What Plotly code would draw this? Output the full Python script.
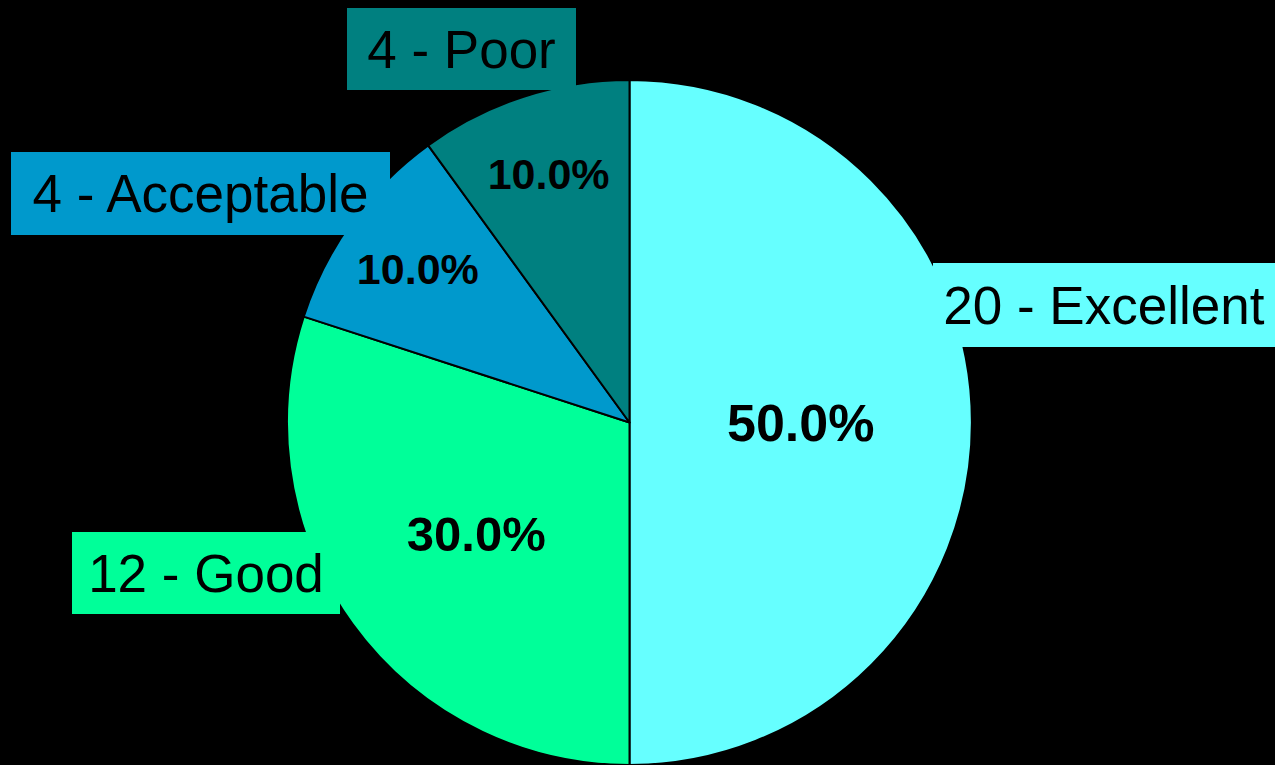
import plotly.graph_objects as go

labels = ["Excellent", "Good", "Acceptable", "Poor"]
counts = [20, 12, 4, 4]
colors = ["#66FFFF", "#00FF99", "#0099CC", "#008080"]
pct_font_sizes = [52, 49, 43, 43]

W, H = 1275, 765

fig = go.Figure()
fig.add_trace(go.Pie(
    labels=labels,
    values=counts,
    sort=False,
    direction="clockwise",
    rotation=0,
    marker=dict(colors=colors, line=dict(color="black", width=2)),
    texttemplate="%{percent:.1%}",
    textposition="inside",
    insidetextorientation="horizontal",
    textfont=dict(family="Liberation Sans, Arial", size=pct_font_sizes, color="black", weight="bold"),
    hoverinfo="label+value+percent",
    showlegend=False,
    domain=dict(x=[287 / W, 972 / W], y=[0, 1 - 80 / H]),
))

# label boxes (pixel boxes: left, top, right, bottom)
boxes = [(933, 263, 1275, 347), (72, 532, 340, 614), (11, 152, 390, 235), (347, 8, 576, 90)]
for lab, cnt, col, (l, t, r, b) in zip(labels, counts, colors, boxes):
    fig.add_annotation(
        x=(l + r) / 2 / W, y=1 - (t + b) / 2 / H, xref="paper", yref="paper",
        xanchor="center", yanchor="middle",
        text=f"{cnt} - {lab}", showarrow=False,
        width=r - l, height=b - t, bgcolor=col, borderpad=0, borderwidth=0,
        font=dict(family="Liberation Sans, Arial", size=53, color="black"),
    )

fig.update_layout(
    width=W, height=H,
    paper_bgcolor="black", plot_bgcolor="black",
    margin=dict(l=0, r=0, t=0, b=0),
)
fig.write_html(
    "out.html",
    config={"displayModeBar": False},
    post_script="document.body.style.margin='0';document.body.style.background='black';",
)
